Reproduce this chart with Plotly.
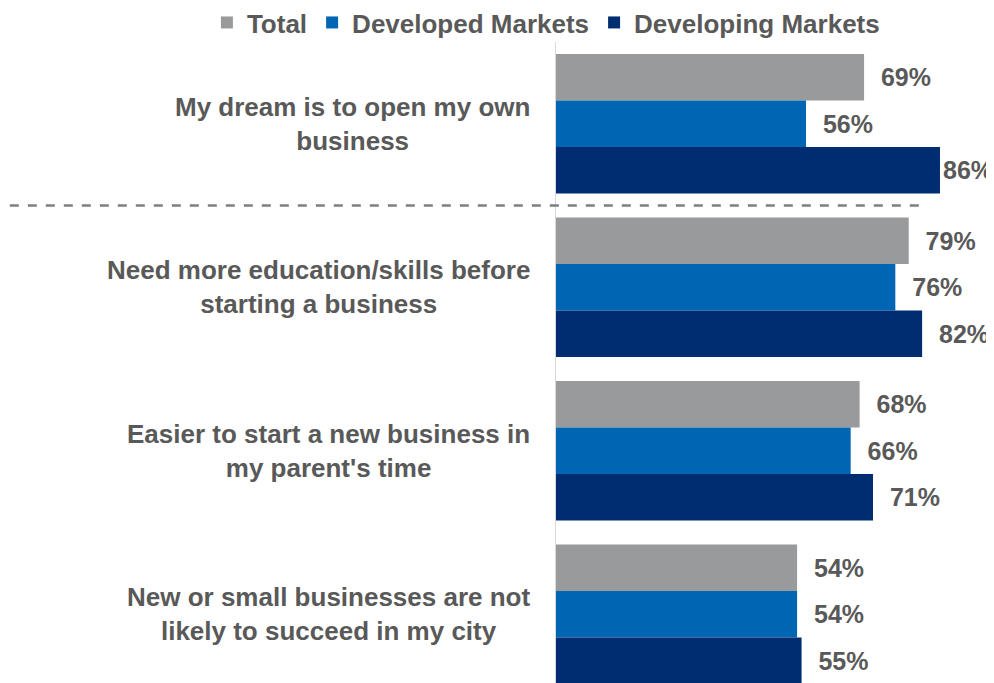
import plotly.graph_objects as go

# ── Data ────────────────────────────────────────────────────────
CATEGORIES = [
    "My dream is to open my own<br>business",
    "Need more education/skills before<br>starting a business",
    "Easier to start a new business in<br>my parent's time",
    "New or small businesses are not<br>likely to succeed in my city",
]
TOTAL = [69, 79, 68, 54]
DEVELOPED = [56, 76, 66, 54]
DEVELOPING = [86, 82, 71, 55]

SERIES = [
    ("Total", TOTAL, "#999A9C"),
    ("Developed Markets", DEVELOPED, "#0066B3"),
    ("Developing Markets", DEVELOPING, "#002D72"),
]

TEXT_COLOR = "#595959"
FONT = "Liberation Sans, Arial, sans-serif"
NBSP = "\u00a0"


def _label(v):
    # the widest bar sits tight against its label, the rest get a small gap
    pad = "" if v >= 85 else NBSP * 2
    return f"{pad}{v}%"


fig = go.Figure()
for name, vals, color in SERIES:
    fig.add_trace(go.Bar(
        x=vals,
        y=CATEGORIES,
        name=name,
        legendgroup=name,
        orientation="h",
        marker=dict(color=color, line=dict(width=0)),
        text=[_label(v) for v in vals],
        textposition="outside",
        constraintext="none",
        cliponaxis=False,
        textfont=dict(family=FONT, size=25, color=TEXT_COLOR, weight="bold"),
    ))

# category labels, centred multi-line text left of the axis
for cat in CATEGORIES:
    fig.add_annotation(
        x=0, xref="paper", xanchor="right", xshift=-24,
        y=cat, yref="y",
        text=cat, align="center", showarrow=False,
        font=dict(family=FONT, size=26, color=TEXT_COLOR, weight="bold"),
    )

# dashed separator under the first question
fig.add_shape(
    type="line", xref="paper", yref="y",
    x0=-1.247, x1=0.849, y0=0.5, y1=0.5,
    line=dict(color="#7F7F7F", width=2.5, dash="dash"),
)

# page body has an 8px margin, so the figure is sized to fit the window
fig.update_layout(
    width=986, height=675,
    template="plotly_white",
    plot_bgcolor="white", paper_bgcolor="white",
    barmode="group", bargap=0.146, bargroupgap=0,
    margin=dict(l=548, r=0, t=34, b=0, autoexpand=False),
    font=dict(family=FONT, color=TEXT_COLOR),
    legend=dict(
        orientation="h",
        x=-0.797, xref="paper", xanchor="left",
        y=1.067, yref="paper", yanchor="top",
        font=dict(family=FONT, size=26, color=TEXT_COLOR, weight="bold"),
        itemwidth=30, traceorder="grouped", tracegroupgap=22,
        bgcolor="rgba(0,0,0,0)",
    ),
    showlegend=True,
)
fig.update_xaxes(range=[0, 98.1], visible=False, showgrid=False, zeroline=False)
fig.update_yaxes(
    range=[3.42, -0.5], showticklabels=False, showgrid=False, zeroline=False,
    showline=True, linecolor="#D9D9D9", linewidth=1, ticks="",
)

fig.write_html("out.html")
